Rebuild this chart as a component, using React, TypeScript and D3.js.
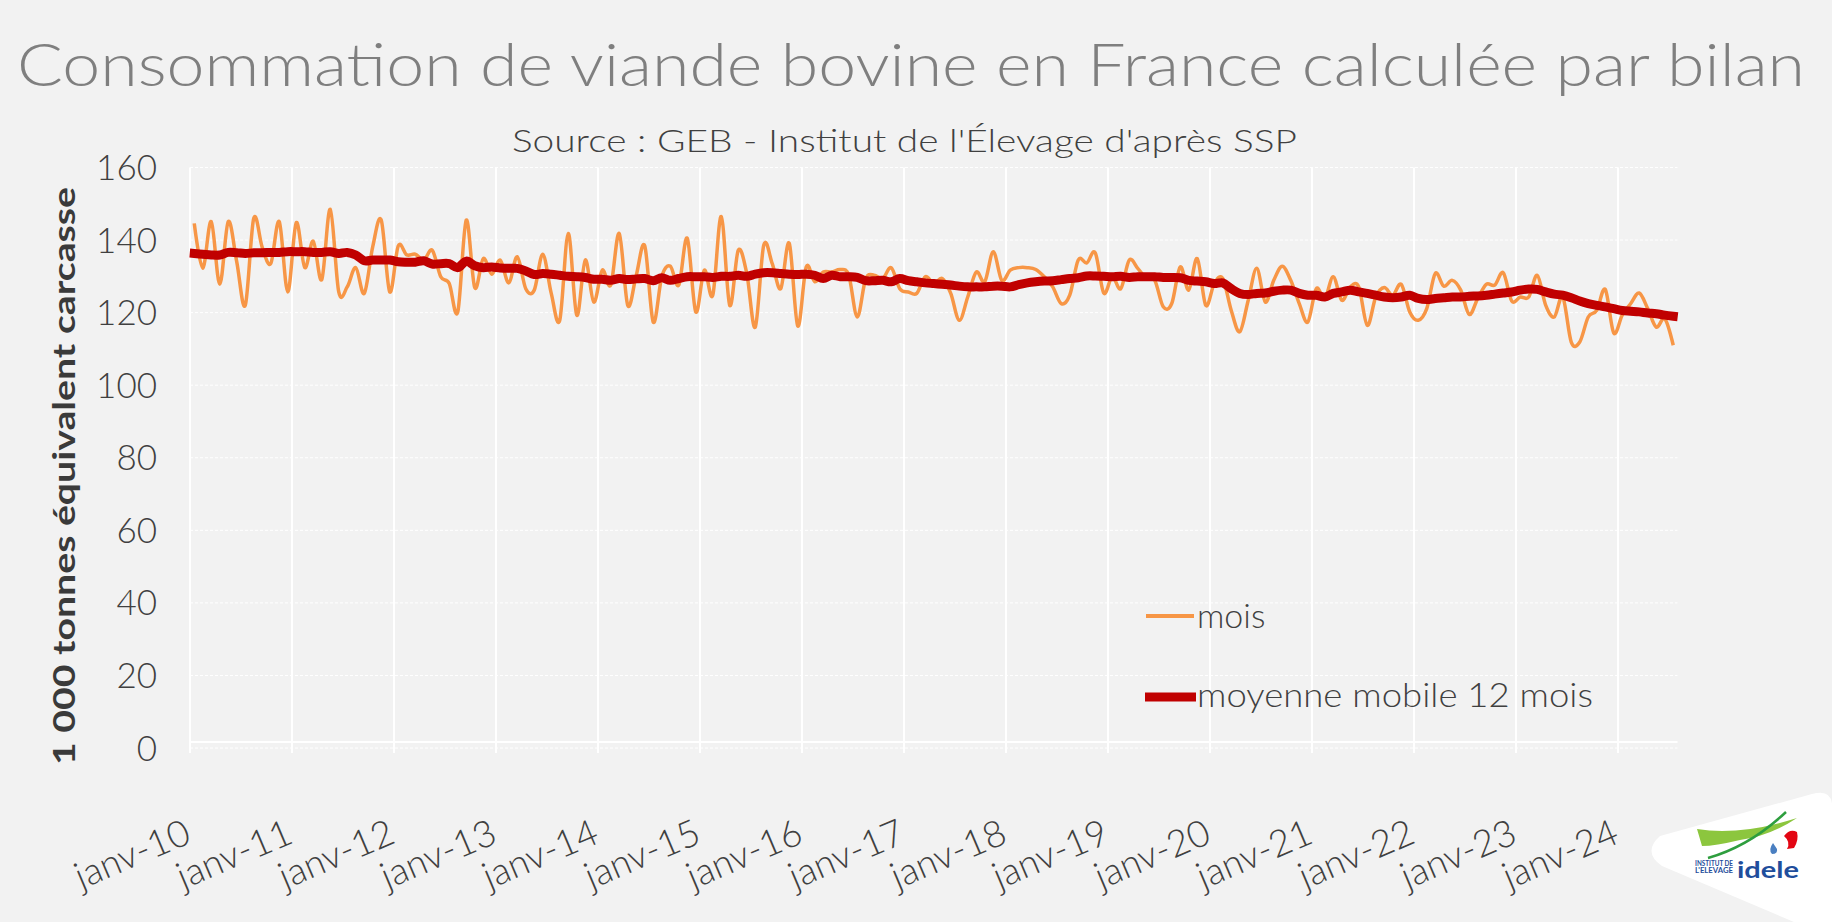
import React from 'react';
import * as d3 from 'd3';

// monthly categories, janv-10 .. juil-24
const monthNames = ['janv', 'févr', 'mars', 'avr', 'mai', 'juin', 'juil', 'août', 'sept', 'oct', 'nov', 'déc'];
const years = ['10', '11', '12', '13', '14', '15', '16', '17', '18', '19', '20', '21', '22', '23', '24'];
const lastMonthCount = 7; // 2024 stops at juillet

const categories: string[] = [];
years.forEach((yr, i) => {
    const n = i === years.length - 1 ? lastMonthCount : 12;
    for (let m = 0; m < n; m++) categories.push(`${monthNames[m]}-${yr}`);
});

// 1 000 tec, monthly consumption
const mois = [
    144.6, 132.2, 145.1, 127.8, 145.1, 134.0, 122.0, 146.0, 138.0, 133.5, 145.1, 125.7,
    144.8, 132.4, 139.7, 129.1, 148.5, 125.7, 127.1, 132.4, 125.3, 138.2, 145.5, 125.7,
    138.4, 135.9, 136.1, 134.5, 137.2, 129.9, 128.0, 120.2, 145.5, 126.9, 134.9, 130.6,
    134.5, 128.2, 135.4, 126.6, 126.2, 136.1, 125.3, 117.9, 141.8, 119.3, 134.5, 122.9,
    131.7, 127.6, 141.8, 122.0, 130.3, 138.4, 117.4, 129.9, 132.8, 127.6, 140.5, 120.2,
    131.7, 124.8, 146.5, 122.0, 137.2, 130.8, 116.0, 138.6, 133.5, 126.6, 139.1, 116.3,
    132.6, 128.5, 131.2, 131.2, 131.9, 130.3, 118.8, 129.4, 130.3, 129.4, 132.4, 126.6,
    125.7, 125.3, 129.9, 128.0, 129.4, 125.3, 117.9, 124.3, 131.2, 128.5, 136.8, 128.9,
    131.7, 132.4, 132.4, 131.9, 129.9, 127.1, 122.5, 124.8, 134.5, 133.7, 136.5, 125.4,
    129.9, 126.6, 134.5, 132.2, 129.4, 128.9, 121.6, 122.5, 132.6, 126.2, 134.9, 122.0,
    128.0, 129.4, 120.6, 114.7, 123.4, 132.2, 122.9, 128.9, 132.8, 128.9, 122.5, 117.4,
    126.6, 123.9, 129.9, 123.4, 127.1, 127.1, 116.5, 124.3, 126.9, 124.8, 127.8, 120.2,
    117.9, 121.1, 130.8, 127.3, 128.9, 126.2, 119.5, 123.9, 127.8, 127.6, 131.0, 123.2,
    124.3, 124.3, 130.3, 122.0, 118.8, 124.3, 111.9, 111.9, 118.8, 120.6, 126.4, 114.4,
    119.3, 122.5, 125.4, 121.1, 116.0, 118.3, 111.0
];

// 12-month moving average
const moyenneMobile = [
    136.3, 136.1, 135.9, 135.9, 136.6, 136.5, 136.3, 136.5, 136.5, 136.6, 136.6, 136.8,
    136.8, 136.8, 136.6, 136.6, 136.8, 136.3, 136.6, 135.9, 134.3, 134.5, 134.5, 134.5,
    134.0, 133.9, 133.9, 134.3, 133.4, 133.5, 133.5, 132.4, 134.2, 132.9, 132.4, 132.6,
    132.3, 132.2, 132.2, 131.5, 130.5, 130.8, 130.6, 130.3, 130.0, 129.9, 129.7, 129.2,
    129.2, 128.9, 129.4, 129.1, 129.3, 129.4, 128.8, 129.6, 128.9, 129.4, 129.9, 129.9,
    129.9, 129.7, 130.0, 130.0, 130.3, 130.0, 130.6, 131.0, 131.0, 130.8, 130.6, 130.5,
    130.6, 130.3, 129.4, 130.3, 129.9, 129.9, 129.7, 128.8, 128.8, 128.9, 128.5, 129.4,
    128.8, 128.5, 128.2, 128.0, 127.8, 127.6, 127.3, 127.1, 127.1, 127.1, 127.3, 127.3,
    127.1, 127.7, 128.2, 128.5, 128.7, 128.8, 129.1, 129.4, 129.6, 130.1, 130.1, 130.0,
    129.9, 130.0, 129.7, 129.9, 129.9, 129.9, 129.7, 129.7, 129.6, 128.9, 128.7, 128.5,
    128.0, 128.2, 126.6, 125.3, 125.0, 125.3, 125.4, 125.9, 126.2, 126.2, 125.3, 124.8,
    124.8, 124.3, 125.3, 125.7, 126.2, 125.7, 125.3, 124.8, 124.3, 124.1, 124.3, 124.8,
    123.9, 123.6, 123.9, 124.1, 124.3, 124.3, 124.5, 124.6, 124.8, 125.1, 125.4, 125.7,
    126.2, 126.5, 126.4, 125.7, 125.1, 124.8, 124.1, 123.2, 122.5, 122.0, 121.6, 121.1,
    120.6, 120.4, 120.2, 119.9, 119.7, 119.3, 119.0
];

const yTicks = [0, 20, 40, 60, 80, 100, 120, 140, 160];

const title = 'Consommation de viande bovine en France calculée par bilan';
const subtitle = "Source : GEB - Institut de l'Élevage d'après SSP";
const yTitle = '1 000 tonnes équivalent carcasse';
const legendLabels = ['mois', 'moyenne mobile 12 mois'];

const ORANGE = '#f79646';
const RED = '#c00000';
const TEXT = '#404040';
const FONT = "Lato, 'Open Sans', sans-serif";

export default function App() {
    const width = 1832;
    const height = 922;
    const plot = { left: 190, right: 1677.5, top: 167.5, bottom: 748 };

    const x = d3.scalePoint<string>()
        .domain(categories)
        .range([plot.left, plot.right])
        .padding(0.5);
    const step = x.step();

    const y = d3.scaleLinear()
        .domain([0, 160])
        .range([plot.bottom, plot.top]);

    const line = d3.line<number>()
        .x((d, i) => x(categories[i]) as number)
        .y(d => y(d))
        .curve(d3.curveCardinal.tension(0));

    const yearCats = categories.filter(c => c.startsWith('janv'));

    return (
        <svg width={width} height={height} style={{ position: 'absolute', left: 0, top: 0 }}
            fontFamily={FONT}>
            <rect width={width} height={height} fill="#f2f2f2" />

            {/* titles */}
            <text x={17} y={86} fontSize={60} fill="#7f7f7f" fontWeight={300}
                textLength={1788} lengthAdjust="spacingAndGlyphs">{title}</text>
            <text x={512} y={152} fontSize={31} fill={TEXT} fontWeight={300}
                textLength={785} lengthAdjust="spacingAndGlyphs">{subtitle}</text>

            {/* horizontal grid */}
            {yTicks.map(t => (
                <line key={t} x1={plot.left} x2={plot.right} y1={y(t)} y2={y(t)}
                    stroke="#ffffff" strokeWidth={1} strokeDasharray="3,2" />
            ))}
            <line x1={plot.left} x2={plot.right} y1={y(0) - 6} y2={y(0) - 6}
                stroke="#ffffff" strokeWidth={2} />

            {/* vertical grid at each janvier */}
            {yearCats.map(c => {
                const gx = (x(c) as number) - step / 2;
                return <line key={c} x1={gx} x2={gx} y1={plot.top} y2={plot.bottom + 5}
                    stroke="#ffffff" strokeWidth={2} />;
            })}

            {/* y axis labels */}
            {yTicks.map(t => (
                <text key={t} x={157} y={y(t)} dy="0.36em" textAnchor="end"
                    fontSize={35} fill={TEXT} fontWeight={300}>{t}</text>
            ))}
            <text transform={`translate(75, 476) rotate(-90)`} textAnchor="middle"
                fontSize={31} fontWeight="bold" fill="#3a3a3a"
                textLength={578} lengthAdjust="spacingAndGlyphs">{yTitle}</text>

            {/* x axis labels */}
            {yearCats.map(c => {
                const gx = (x(c) as number) - step / 2;
                return (
                    <text key={c} transform={`translate(${gx + 3}, 842) rotate(-23)`}
                        textAnchor="end" fontSize={37} fill={TEXT} fontWeight={300}>{c}</text>
                );
            })}

            {/* series */}
            <path d={line(mois) || ''} fill="none" stroke={ORANGE} strokeWidth={3.5}
                strokeLinejoin="round" />
            <path d={line(moyenneMobile) || ''} fill="none" stroke={RED} strokeWidth={9}
                strokeLinejoin="round" strokeLinecap="square" />

            {/* legend */}
            <line x1={1146} x2={1194} y1={616} y2={616} stroke={ORANGE} strokeWidth={4} />
            <text x={1197} y={628} fontSize={34} fill={TEXT} fontWeight={300}>{legendLabels[0]}</text>
            <line x1={1145} x2={1196} y1={697} y2={697} stroke={RED} strokeWidth={9} />
            <text x={1197} y={707} fontSize={34} fill={TEXT} fontWeight={300}
                textLength={396} lengthAdjust="spacingAndGlyphs">{legendLabels[1]}</text>

            {/* idele logo */}
            <g>
                <path d="M1660,836 L1812,794 Q1834,788 1832,810 L1832,922 L1794,922 L1662,866 Q1642,852 1660,836 Z"
                    fill="#ffffff" />
                <path d="M1697,829 Q1740,836 1797,818 Q1770,836 1740,840 Q1715,846 1702,846 Z" fill="#8cc63e" />
                <path d="M1708,858 Q1750,846 1786,812" fill="none" stroke="#2e9e3e" strokeWidth={2.5} />
                <path d="M1784,836 Q1790,828 1797,832 Q1799,840 1794,848 L1787,849 Q1791,842 1784,836 Z" fill="#e30613" />
                <path d="M1773,843 Q1768,850 1772,854 Q1778,854 1777,849 Z" fill="#4a7fc1" />
                <text x={1695} y={866} fontSize={7} fontWeight="bold" fill="#1f4e9c"
                    textLength={38} lengthAdjust="spacingAndGlyphs">INSTITUT DE</text>
                <text x={1695} y={873} fontSize={7} fontWeight="bold" fill="#1f4e9c"
                    textLength={38} lengthAdjust="spacingAndGlyphs">L'ELEVAGE</text>
                <text x={1737} y={878} fontSize={22} fontWeight="bold" fill="#1f4e9c"
                    textLength={62} lengthAdjust="spacingAndGlyphs">idele</text>
            </g>
        </svg>
    );
}
